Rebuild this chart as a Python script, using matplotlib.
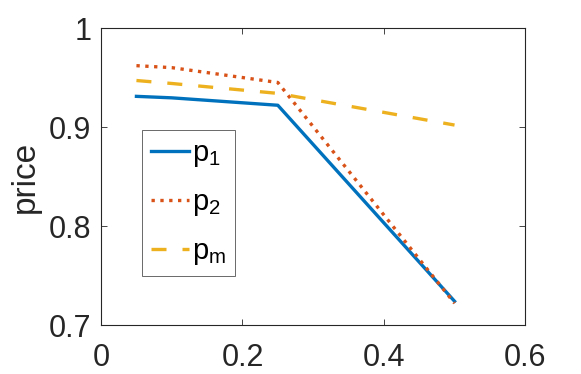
import matplotlib
matplotlib.use("Agg")
import matplotlib.pyplot as plt

# values
x = [0.05, 0.1, 0.25, 0.5]
p1 = [0.931, 0.9295, 0.922, 0.724]
p2 = [0.962, 0.960, 0.945, 0.722]
pm = [0.947, 0.944, 0.934, 0.902]

plt.rcParams['font.family'] = ['Liberation Sans', 'DejaVu Sans']
plt.rcParams['mathtext.fontset'] = 'custom'
plt.rcParams['mathtext.rm'] = 'Liberation Sans'
plt.rcParams['mathtext.it'] = 'Liberation Sans'

dark = '#262626'
fig = plt.figure(figsize=(5.81, 3.74), dpi=100)
ax = fig.add_axes([0.174, 0.131, 0.730, 0.794])

ax.plot(x, p1, '-', color='#0072BD', lw=2.4, label=r'$\mathregular{p_1}$')
ax.plot(x, p2, ':', color='#D95319', lw=2.4, label=r'$\mathregular{p_2}$')
ax.plot(x, pm, '--', color='#EDB120', lw=2.4, dashes=(4.5, 4.8), label=r'$\mathregular{p_m}$')

ax.set_xlim(0, 0.6)
ax.set_ylim(0.7, 1.0)
ax.set_xticks([0, 0.2, 0.4, 0.6])
ax.set_xticklabels(['0', '0.2', '0.4', '0.6'])
ax.set_yticks([0.7, 0.8, 0.9, 1.0])
ax.set_yticklabels(['0.7', '0.8', '0.9', '1'])
ax.tick_params(direction='in', top=True, right=True, length=4, width=0.6,
               labelsize=22, colors=dark)
ax.tick_params(axis='x', pad=13)
ax.tick_params(axis='y', pad=7)
for s in ax.spines.values():
    s.set_color(dark)
    s.set_linewidth(0.8)
ax.set_ylabel('price', fontsize=24, color=dark, labelpad=6)

leg = ax.legend(loc='upper left', bbox_to_anchor=(0.097, 0.656), fontsize=21,
                frameon=True, fancybox=False, borderpad=0.3, labelspacing=0.66,
                handlelength=1.3, handletextpad=0.12, borderaxespad=0)
leg.get_frame().set_edgecolor(dark)
leg.get_frame().set_linewidth(0.6)

fig.savefig('out.png', dpi=100)
